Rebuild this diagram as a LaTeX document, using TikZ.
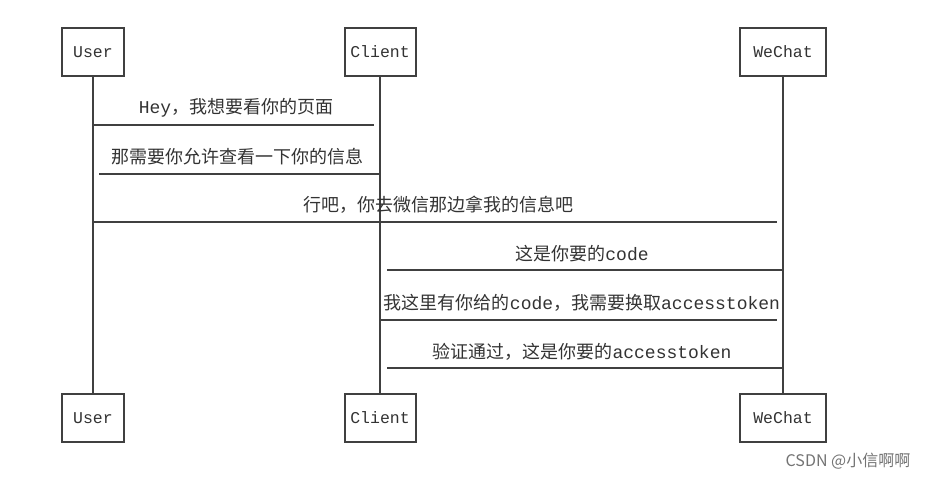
\documentclass[tikz,border=0pt]{standalone}
\usepackage{fontspec}
\setmainfont{Liberation Mono}
\newfontfamily\cjk{Noto Sans CJK SC}
\newcommand{\zh}[1]{{\cjk #1}}
\begin{document}
\begin{tikzpicture}[x=1pt,y=-1pt,
  actor/.style={draw=black!75,line width=2pt,minimum width=#1,minimum height=48pt,inner sep=0pt,font=\fontsize{16.5}{16.5}\selectfont,text=black!80},
  life/.style={draw=black!75,line width=2.5pt},
  msg/.style={draw=black!75,line width=2.5pt},
  lbl/.style={font=\fontsize{18}{18}\selectfont,text=black!80,inner sep=0pt}]
\useasboundingbox (0,0) rectangle (931,479);
\node[actor=62pt] (u1) at (93,52) {User};
\node[actor=71pt] (c1) at (380,52) {Client};
\node[actor=86pt] (w1) at (783,52) {WeChat};
\node[actor=62pt] (u2) at (93,418) {User};
\node[actor=71pt] (c2) at (380,418) {Client};
\node[actor=86pt] (w2) at (783,418) {WeChat};
\draw[life] (u1) -- (u2);
\draw[life] (c1) -- (c2);
\draw[life] (w1) -- (w2);
\coordinate (a1) at (93,125); \coordinate (b1) at (374,125);
\coordinate (a2) at (99,174); \coordinate (b2) at (380,174);
\coordinate (a3) at (93,222); \coordinate (b3) at (777,222);
\coordinate (a4) at (387,270); \coordinate (b4) at (783,270);
\coordinate (a5) at (381,320); \coordinate (b5) at (777,320);
\coordinate (a6) at (387,368); \coordinate (b6) at (783,368);
\draw[msg] (a1) -- (b1);
\draw[msg] (a2) -- (b2);
\draw[msg] (a3) -- (b3);
\draw[msg] (a4) -- (b4);
\draw[msg] (a5) -- (b5);
\draw[msg] (a6) -- (b6);
\node[lbl] (t1) at (236,108) {Hey\zh{，我想要看你的页面}};
\node[lbl] (t2) at (237,157) {\zh{那需要你允许查看一下你的信息}};
\node[lbl] (t3) at (438,205) {\zh{行吧，你去微信那边拿我的信息吧}};
\node[lbl] (t4) at (582,254) {\zh{这是你要的}code};
\node[lbl] (t5) at (582,303) {\zh{我这里有你给的}code\zh{，我需要换取}accesstoken};
\node[lbl] (t6) at (582,352) {\zh{验证通过，这是你要的}accesstoken};
\node[font=\fontsize{16}{16}\selectfont\cjk,text=black!55,inner sep=0pt] (wm) at (848,461) {CSDN @小信啊啊};
\end{tikzpicture}
\end{document}
